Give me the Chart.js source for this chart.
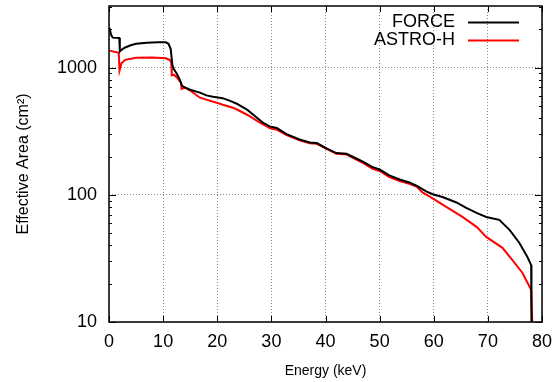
<!DOCTYPE html>
<html>
<head>
<meta charset="utf-8">
<script src="https://cdn.jsdelivr.net/npm/chart.js@4/dist/chart.umd.min.js"></script>
<style>
html,body{margin:0;padding:0;background:#fff;}
#wrap{width:555px;height:382px;position:relative;}
</style>
</head>
<body>
<div id="wrap"><canvas id="c" width="555" height="382"></canvas></div>
<script>
// ---- data ----
const forceEnergy = [0.1,0.4,0.7,1.9,2.0,2.5,3,4,5,7,9,10.5,11.0,11.4,11.7,12.0,12.5,13.0,13.3,13.5,14,15,16.8,18,19.2,21,22.5,23.6,25.5,27,28.4,29.7,31,32.8,35.2,37.1,38.4,40.2,42,43.9,45.8,46.9,48.7,50,51.8,53.7,55.5,56.8,58.7,59.8,61.6,64.2,66,67.9,69.7,72.1,74,75.8,77.3,78.0,78.05];
const forceArea   = [2050,1800,1720,1710,1340,1400,1440,1500,1540,1570,1585,1580,1540,1400,1050,970,900,820,760,720,700,670,636,605,590,575,545,520,467,415,370,345,335,300,272,258,255,232,213,210,192,182,165,158,142,132,125,118,106,101,96,87,79,72,67,63.5,53,42,32.5,28,10];

const astroEnergy = [0.1,1.8,1.95,2.3,3,5,8,10.5,11.2,11.5,11.6,12,12.5,13.0,13.3,13.4,14,15,16.8,18,19.9,21,22.9,24,25.5,27.9,29.7,31,32.8,35.2,37.1,38.4,40.2,42,43.9,45.8,46.9,48.7,50,51.8,53.7,55.5,56.8,58,59.2,62.3,65.3,67.9,69.7,72.7,74.5,76.4,78.0,78.2];
const astroArea   = [1360,1310,950,1080,1150,1195,1200,1185,1150,1100,870,880,840,790,760,680,695,660,580,560,530,510,484,460,426,369,335,325,295,268,254,252,230,210,207,188,178,160,154,138,128,122,116,104,97,80.5,67,56,46.7,38.3,30.8,24.3,17.9,10];

const seriesNames = ['FORCE','ASTRO-H'];
const xTickValues = [0,10,20,30,40,50,60,70,80];
const yMajorTicks = [10,100,1000];
const yMinorTicks = [20,30,40,50,60,70,80,90,200,300,400,500,600,700,800,900,2000,3000];

const FONT = "'Liberation Sans', Arial, sans-serif";

function toPoints(xs, ys){ return xs.map((x,i)=>({x:x, y:ys[i]})); }

const framePlugin = {
  id:'frame',
  afterDraw(chart){
    const ctx = chart.ctx, a = chart.chartArea;
    const xs = chart.scales.x, ys = chart.scales.y;
    ctx.save();
    ctx.strokeStyle = '#000';
    ctx.lineWidth = 1;
    // inward ticks
    ctx.beginPath();
    xTickValues.forEach(v=>{
      const px = Math.round(xs.getPixelForValue(v))+0.5;
      ctx.moveTo(px, a.bottom); ctx.lineTo(px, a.bottom-6);
      ctx.moveTo(px, a.top); ctx.lineTo(px, a.top+6);
    });
    yMajorTicks.forEach(v=>{
      const py = Math.round(ys.getPixelForValue(v))+0.5;
      ctx.moveTo(a.left, py); ctx.lineTo(a.left+7, py);
      ctx.moveTo(a.right, py); ctx.lineTo(a.right-7, py);
    });
    yMinorTicks.forEach(v=>{
      const py = Math.round(ys.getPixelForValue(v))+0.5;
      ctx.moveTo(a.left, py); ctx.lineTo(a.left+3, py);
      ctx.moveTo(a.right, py); ctx.lineTo(a.right-3, py);
    });
    ctx.stroke();
    ctx.lineWidth = 1.5;
    ctx.strokeRect(a.left, a.top, a.right-a.left, a.bottom-a.top);
    // legend (text left of sample line)
    ctx.font = '18px ' + FONT;
    ctx.textAlign = 'right';
    ctx.textBaseline = 'middle';
    chart.data.datasets.forEach((ds,i)=>{
      const y = 22 + i*18;
      ctx.fillStyle = '#000';
      ctx.fillText(ds.label, 455, y);
      ctx.strokeStyle = ds.borderColor;
      ctx.lineWidth = 2;
      ctx.beginPath(); ctx.moveTo(468, y+0.5); ctx.lineTo(519, y+0.5); ctx.stroke();
    });
    ctx.restore();
  }
};

new Chart(document.getElementById('c'), {
  type:'line',
  data:{
    datasets:[
      {label:seriesNames[0], data:toPoints(forceEnergy, forceArea), borderColor:'#000000', borderWidth:2, pointRadius:0, tension:0, fill:false},
      {label:seriesNames[1], data:toPoints(astroEnergy, astroArea), borderColor:'#ff0000', borderWidth:2, pointRadius:0, tension:0, fill:false}
    ]
  },
  options:{
    responsive:false,
    animation:false,
    events:[],
    layout:{padding:{left:0,right:13,top:6,bottom:0}},
    plugins:{legend:{display:false}, tooltip:{enabled:false}},
    scales:{
      x:{
        type:'linear', min:0, max:80,
        afterBuildTicks(scale){ scale.ticks = xTickValues.map(v=>({value:v})); },
        afterFit(scale){ scale.height = 60; scale.paddingLeft = 0; scale.paddingRight = 0; },
        ticks:{color:'#000', font:{family:FONT, size:18}, padding:9, autoSkip:false, maxRotation:0},
        grid:{color:'#8c8c8c', lineWidth:1, drawTicks:false},
        border:{display:false, dash:[1,2]},
        title:{display:true, text:'Energy (keV)', color:'#000', font:{family:FONT, size:14}, padding:{top:0,bottom:2}}
      },
      y:{
        type:'logarithmic', min:10, max:3050,
        afterBuildTicks(scale){ scale.ticks = yMajorTicks.concat(yMinorTicks).sort((a,b)=>a-b).map(v=>({value:v})); },
        afterFit(scale){ scale.width = 109; scale.paddingTop = 0; scale.paddingBottom = 0; },
        ticks:{color:'#000', font:{family:FONT, size:18}, padding:12, autoSkip:false,
          callback:(v)=> yMajorTicks.includes(v) ? String(v) : ''},
        grid:{drawTicks:false, lineWidth:1,
          color:(ctx)=> (ctx.tick && yMajorTicks.includes(ctx.tick.value)) ? '#8c8c8c' : 'rgba(0,0,0,0)'},
        border:{display:false, dash:[1,2]},
        title:{display:true, text:'Effective Area (cm²)', color:'#000', font:{family:FONT, size:16}, padding:{top:14,bottom:0}}
      }
    }
  },
  plugins:[framePlugin]
});
</script>
</body>
</html>
